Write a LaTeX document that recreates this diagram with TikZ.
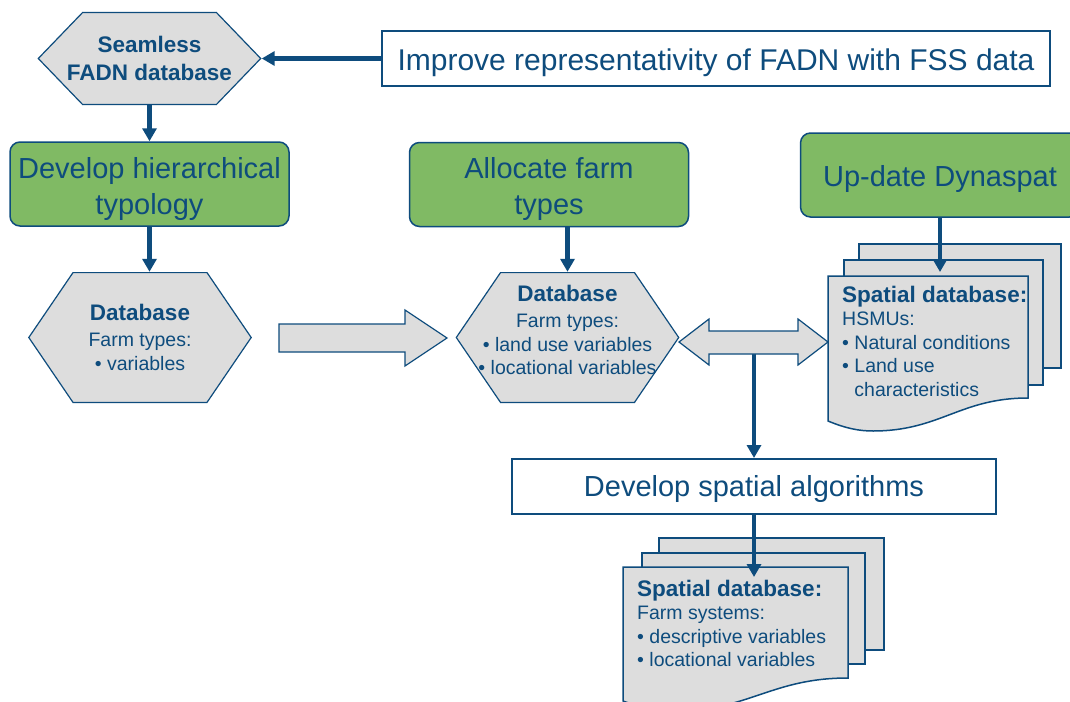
\documentclass[tikz,border=0pt]{standalone}
\usepackage{fontspec}
\setmainfont{Liberation Sans}
\usepackage{xcolor}
\usepackage{tikz}
\usetikzlibrary{arrows.meta}

\definecolor{dblue}{RGB}{14,76,125}
\definecolor{fgreen}{RGB}{128,186,100}
\definecolor{pgray}{RGB}{221,221,221}

% invisible rule that lowers the text of a box
\newcommand{\droptext}[1]{\rule{0pt}{#1}}

\tikzset{
    textdrop/.style={execute at begin node={\droptext{#1}}},
    greenbox/.style={draw=dblue, line width=1.5pt, fill=fgreen, rounded corners=10pt, text=dblue, align=center,
        minimum width=279pt, minimum height=84pt, inner sep=0pt, font=\fontsize{29}{36}\selectfont},
    taskbox/.style={draw=dblue, line width=2pt, fill=white, text=dblue, minimum height=55pt, inner sep=0pt,
        font=\fontsize{29}{36}\selectfont},
    hexnode/.style={minimum width=224pt, minimum height=#1, inner sep=0pt, fill=white, text=dblue, align=center,
        font=\fontsize{19.5}{23.5}\selectfont,
        path picture={
            \draw[fill=pgray, draw=dblue, line width=1.2pt]
                ([xshift=0.8pt]path picture bounding box.west)
                -- ([xshift=45pt, yshift=-0.6pt]path picture bounding box.north west)
                -- ([xshift=-45pt, yshift=-0.6pt]path picture bounding box.north east)
                -- ([xshift=-0.8pt]path picture bounding box.east)
                -- ([xshift=-45pt, yshift=0.6pt]path picture bounding box.south east)
                -- ([xshift=45pt, yshift=0.6pt]path picture bounding box.south west) -- cycle;
        }},
    page/.style={draw=dblue, line width=1.5pt, fill=pgray},
    bigarrow/.style={draw=dblue, line width=1.2pt, fill=pgray},
    flow/.style={draw=dblue, line width=4.5pt, -{Triangle[width=14pt, length=13pt]}},
    doctext/.style={anchor=north west, inner sep=0pt, align=left, text=dblue, font=\fontsize{19.5}{23.5}\selectfont}
}

\begin{document}
\begin{tikzpicture}[x=1pt, y=-1pt]
    \useasboundingbox[fill=white] (0,0) rectangle (1070,701);

    % Top row
    \node[hexnode=93pt, font=\bfseries\fontsize{22.5}{28}\selectfont] (seam) at (149.5,58.5) {Seamless\\FADN database};
    \node[taskbox, minimum width=668pt, font=\fontsize{30}{36}\selectfont, textdrop=30pt] (improve) at (716,58.5)
        {Improve representativity of FADN with FSS data};

    % Green task boxes
    \node[greenbox] (hier) at (149.5,184) {\droptext{31pt}Develop hierarchical\\typology};
    \node[greenbox] (alloc) at (549,184.5) {\droptext{31pt}Allocate farm\\types};
    \node[greenbox, textdrop=29pt] (upd) at (940,175) {Up-date Dynaspat};

    % Farm type databases
    \node[hexnode=131pt] (db1) at (140,337.5)
        {{\bfseries\fontsize{22.5}{26}\selectfont Database}\\[2.5pt] Farm types:\\ \textbullet\ variables};
    \node[hexnode=131pt] (db2) at (567.5,337.5)
        {{\bfseries\fontsize{22.5}{26}\selectfont Database}\\[2.5pt] Farm types:\\ \textbullet\ land use variables\\
         \textbullet\ locational variables\rule[-15pt]{0pt}{1pt}};

    % Spatial database (HSMUs), stacked pages
    \draw[page] (859,244) rectangle (1061,368);
    \draw[page] (844,260) rectangle (1043,385);
    \draw[page] (828,276) -- (1028,276) -- (1028,398) .. controls (960,398) and (940,431) .. (873,431)
        .. controls (858,431) and (845,428) .. (828,421) -- cycle;
    \coordinate (hsmutop) at (941,272);
    \node[doctext] (hsmu) at (842,285.5)
        {{\bfseries\fontsize{22.5}{24}\selectfont Spatial database:}\\ HSMUs:\\ \textbullet\ Natural conditions\\
         \textbullet\ Land use\\ \phantom{\textbullet\ }characteristics};

    % Develop spatial algorithms
    \node[taskbox, minimum width=484pt, textdrop=27pt] (algo) at (754,486.5) {Develop spatial algorithms};

    % Spatial database (farm systems), stacked pages
    \draw[page] (659,538) rectangle (884,650);
    \draw[page] (642,553) rectangle (865,664);
    \draw[page] (623,567) -- (848,567) -- (848,678) .. controls (771,678) and (749,711) .. (674,711)
        .. controls (657,711) and (642,708) .. (623,701) -- cycle;
    \coordinate (farmtop) at (754,577);
    \node[doctext] (farmsys) at (637,579.6)
        {{\bfseries\fontsize{22.5}{24}\selectfont Spatial database:}\\ Farm systems:\\
         \textbullet\ descriptive variables\\ \textbullet\ locational variables};

    % Flow arrows
    \draw[flow] (improve.west) -- (seam.east);
    \draw[flow] (seam.south) -- (hier.north);
    \draw[flow] (hier.south) -- (hier.south |- db1.north);
    \draw[flow] (db2.north |- alloc.south) -- (db2.north);
    \draw[flow] (upd.south) -- (upd.south |- hsmutop);
    \coordinate (split) at (754,352);
    \draw[flow] (split) -- (algo.north);
    \draw[flow] (algo.south) -- (farmtop);

    % Block arrows
    \draw[bigarrow] (279,324) -- (405,324) -- (405,310) -- (447,338) -- (405,366) -- (405,352) -- (279,352) -- cycle;
    \draw[bigarrow] (679,342) -- (709,319) -- (709,331) -- (798,331) -- (798,319) -- (828,342) -- (798,365)
        -- (798,354) -- (709,354) -- (709,365) -- cycle;
\end{tikzpicture}
\end{document}
